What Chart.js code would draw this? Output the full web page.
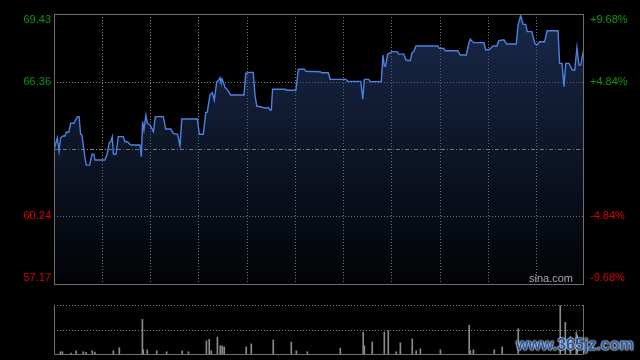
<!DOCTYPE html>
<html>
<head>
<meta charset="utf-8">
<script src="https://cdn.jsdelivr.net/npm/chart.js@4/dist/chart.umd.min.js"></script>
<style>
  html, body { margin: 0; padding: 0; background: #000; }
  #wrap { position: relative; width: 640px; height: 360px; overflow: hidden; }
  #priceChart { position: absolute; left: 0; top: 0; }
  #volChart { position: absolute; left: 0; top: 295px; }
  #mark {
    position: absolute; left: 516px; top: 336px;
    font: bold 16px "Liberation Sans", Arial, sans-serif;
    color: #2457a3;
    text-shadow: 0 0 2px #dfe6ef, 0 0 2px #dfe6ef, 0 0 1px #fff;
  }
</style>
</head>
<body>
<div id="wrap">
  <canvas id="priceChart" width="640" height="290"></canvas>
  <canvas id="volChart" width="640" height="65"></canvas>
  <div id="mark">www.365jz.com</div>
</div>
<script>
// intraday data (minute index 0..241)
const prevClose = 63.30;
const priceTicks = [57.17, 60.24, 63.30, 66.36, 69.43];
const pctLabels = ['-9.68%', '-4.84%', '', '+4.84%', '+9.68%'];
const timeGrid = [21.9, 43.8, 65.7, 87.6, 109.5, 131.5, 153.4, 175.3, 197.2, 219.1];

const priceMinute = [
  0, 1.5, 2.3, 3.0, 4.1, 5.0, 5.5, 6.7, 7.6, 9.1, 10.6, 11.4, 12.1, 12.7, 14.0, 14.7, 16.2, 17.3, 18.1, 18.6,
  23.1, 24.2, 25.1, 25.8, 26.5, 27.0, 28.2, 29.2, 31.5, 32.3, 33.5, 34.6, 35.3, 39.1, 39.7, 40.3, 40.9, 41.8, 42.4, 43.7,
  45.2, 46.1, 48.2, 49.7, 50.8, 53.1, 54.2, 56.2, 57.3, 58.1, 65.2, 66.1, 67.9, 69.0, 69.7, 70.9, 72.0, 72.9, 74.0, 74.7,
  75.5, 75.9, 76.5, 77.8, 79.3, 80.3, 86.4, 87.2, 88.8, 90.6, 91.4, 92.2, 93.7, 96.4, 97.4, 98.2, 98.8, 99.4, 105.2, 105.8,
  110.0, 111.1, 113.8, 114.6, 121.1, 121.7, 124.7, 125.6, 132.8, 133.5, 139.5, 140.4, 141.1, 143.1, 143.8, 148.8, 149.6, 150.2, 150.8, 151.7,
  152.6, 153.7, 156.0, 156.7, 159.0, 160.1, 162.0, 162.8, 163.6, 164.6, 174.5, 175.2, 177.2, 177.9, 183.7, 184.7, 187.5, 188.6, 189.3, 190.8,
  195.5, 196.3, 198.1, 199.6, 201.4, 202.3, 204.6, 205.8, 210.2, 211.0, 212.2, 213.3, 214.5, 215.2, 217.3, 218.6, 219.6, 220.8, 223.1, 224.2,
  229.2, 229.9, 231.0, 231.9, 232.7, 234.2, 235.7, 236.8, 237.8, 238.7, 239.5, 240.9
];
const priceValue = [
  63.25, 63.81, 63.18, 63.81, 63.89, 63.89, 64.06, 64.06, 64.47, 64.47, 64.77, 64.77, 63.97, 63.94, 62.95, 62.57, 62.57, 63.06, 63.06, 62.80,
  62.80, 63.07, 63.59, 63.63, 63.86, 63.07, 63.06, 63.86, 63.86, 63.63, 63.63, 63.51, 63.48, 63.48, 62.95, 64.54, 64.16, 64.84, 64.47, 64.39,
  64.09, 64.77, 64.77, 64.77, 64.21, 64.21, 64.01, 63.97, 63.44, 64.66, 64.66, 63.97, 63.97, 64.95, 64.97, 65.75, 65.86, 65.52, 66.36, 66.40,
  66.54, 66.36, 66.46, 66.10, 65.93, 65.75, 65.75, 66.74, 66.78, 66.78, 65.75, 65.25, 65.22, 65.15, 65.19, 65.07, 65.07, 66.01, 66.01, 65.97,
  65.97, 66.92, 66.92, 66.83, 66.81, 66.76, 66.76, 66.46, 66.46, 66.37, 66.37, 65.56, 66.46, 66.46, 66.36, 66.36, 67.57, 67.07, 67.07, 67.60,
  67.65, 67.72, 67.72, 67.61, 67.61, 67.34, 67.31, 67.67, 67.72, 67.98, 67.98, 67.87, 67.87, 67.76, 67.76, 67.57, 67.57, 68.10, 68.28, 68.13,
  68.13, 67.80, 67.83, 67.98, 67.98, 68.22, 68.26, 68.07, 68.07, 68.93, 69.35, 68.96, 68.96, 68.63, 68.63, 68.10, 68.02, 68.17, 68.17, 68.67,
  68.67, 67.19, 67.19, 66.13, 67.19, 67.19, 66.89, 66.89, 67.90, 67.11, 67.11, 67.83
];

const volMinute = [
  2.9, 3.8, 7.7, 10.1, 13.3, 14.6, 17.4, 18.6, 27.0, 29.7, 40.2, 40.6, 42.4, 46.7, 51.2, 58.3, 61.1, 69.3, 70.6, 71.5,
  74.3, 75.6, 76.5, 77.4, 87.4, 89.7, 99.7, 107.9, 110.2, 115.2, 130.2, 140.6, 141.1, 144.7, 150.2, 152.0, 155.6, 157.5, 162.9, 164.7,
  166.6, 175.7, 188.8, 189.3, 190.7, 200.2, 203.8, 211.1, 230.2, 232.5, 234.8, 237.5, 237.9
];
const volValue = [
  4.6, 4.6, 2, 6.6, 4.6, 3.2, 6.6, 4, 6.6, 12.6, 70.6, 8.6, 8.6, 6.6, 4.6, 6.6, 4.6, 26.6, 30, 6.6,
  34.6, 16.6, 16.6, 14.6, 14.6, 20.6, 28.6, 24.6, 6.6, 4.6, 12, 44.6, 16.6, 24.6, 44.6, 48, 4.6, 22.6, 30.6, 6.6,
  10.6, 8.6, 58.6, 6.6, 8.6, 8.6, 14.6, 52, 98.6, 64.6, 35.2, 44.6, 38.6
];

const frameColor = '#6e6e6e';
const gridColor = '#7a7a7a';

function toXY(xs, ys) {
  return xs.map((x, i) => ({ x: x, y: ys[i] }));
}

// grid + frame for price panel
const priceGrid = {
  id: 'priceGrid',
  beforeDatasetsDraw(chart) {
    const { ctx, chartArea: a, scales: { x, y } } = chart;
    ctx.save();
    ctx.lineWidth = 1;
    ctx.strokeStyle = gridColor;
    ctx.setLineDash([1, 2]);
    timeGrid.forEach(t => {
      const px = Math.round(x.getPixelForValue(t)) + 0.5;
      ctx.beginPath(); ctx.moveTo(px, a.top); ctx.lineTo(px, a.bottom); ctx.stroke();
    });
    [priceTicks[1], priceTicks[3]].forEach(v => {
      const py = Math.round(y.getPixelForValue(v)) + 0.5;
      ctx.beginPath(); ctx.moveTo(a.left, py); ctx.lineTo(a.right, py); ctx.stroke();
    });
    ctx.strokeStyle = '#8c8c8c';
    ctx.setLineDash([4, 2, 1, 2]);
    const py0 = Math.round(y.getPixelForValue(prevClose)) + 0.5;
    ctx.beginPath(); ctx.moveTo(a.left, py0); ctx.lineTo(a.right, py0); ctx.stroke();
    ctx.restore();
  },
  afterDraw(chart) {
    const { ctx, chartArea: a, scales: { y } } = chart;
    ctx.save();
    ctx.strokeStyle = frameColor;
    ctx.lineWidth = 1;
    ctx.strokeRect(a.left + 0.5, a.top + 0.5, a.right - a.left - 1, a.bottom - a.top);
    ctx.font = '11px "Liberation Sans", Arial, sans-serif';
    ctx.textBaseline = 'middle';
    priceTicks.forEach((v, i) => {
      if (v === prevClose) return;
      let py = y.getPixelForValue(v);
      py = Math.min(Math.max(py, a.top + 6), a.bottom - 6);
      ctx.fillStyle = v > prevClose ? '#0a9a0a' : '#e00000';
      ctx.textAlign = 'right';
      ctx.fillText(v.toFixed(2), a.left - 3, py);
      ctx.textAlign = 'left';
      ctx.fillText(pctLabels[i], a.right + 6, py);
    });
    ctx.fillStyle = '#a8a8a8';
    ctx.textAlign = 'right';
    ctx.fillText('sina.com', a.right - 11, a.bottom - 5);
    ctx.restore();
  }
};

const volFrame = {
  id: 'volFrame',
  beforeDatasetsDraw(chart) {
    const { ctx, chartArea: a } = chart;
    ctx.save();
    ctx.lineWidth = 1;
    ctx.strokeStyle = gridColor;
    ctx.setLineDash([1, 2]);
    const mid = Math.round((a.top + a.bottom) / 2) + 0.5;
    [a.top + 0.5, mid].forEach(py => {
      ctx.beginPath(); ctx.moveTo(a.left, py); ctx.lineTo(a.right, py); ctx.stroke();
    });
    ctx.setLineDash([]);
    ctx.strokeStyle = frameColor;
    ctx.beginPath();
    ctx.moveTo(a.left + 0.5, a.top); ctx.lineTo(a.left + 0.5, a.bottom + 0.5);
    ctx.lineTo(a.right - 0.5, a.bottom + 0.5); ctx.lineTo(a.right - 0.5, a.top);
    ctx.stroke();
    ctx.restore();
  }
};

Chart.defaults.animation = false;

new Chart(document.getElementById('priceChart'), {
  type: 'line',
  data: {
    datasets: [{
      data: toXY(priceMinute, priceValue),
      borderColor: '#4a82e2',
      borderWidth: 1.4,
      pointRadius: 0,
      tension: 0,
      fill: 'start',
      backgroundColor: (c) => {
        const a = c.chart.chartArea;
        if (!a) return 'rgba(38,64,115,0.4)';
        const g = c.chart.ctx.createLinearGradient(0, a.top, 0, a.bottom);
        g.addColorStop(0, 'rgba(40,66,120,0.62)');
        g.addColorStop(1, 'rgba(40,66,120,0.04)');
        return g;
      }
    }]
  },
  options: {
    responsive: false,
    layout: { padding: { left: 54, right: 56, top: 14, bottom: 6 } },
    scales: {
      x: { type: 'linear', min: 0, max: 241, display: false },
      y: { min: priceTicks[0], max: priceTicks[4], display: false }
    },
    plugins: { legend: { display: false }, tooltip: { enabled: false } }
  },
  plugins: [priceGrid]
});

new Chart(document.getElementById('volChart'), {
  type: 'bar',
  data: {
    datasets: [{
      data: toXY(volMinute, volValue),
      backgroundColor: '#8a8a8a',
      barThickness: 1
    }]
  },
  options: {
    responsive: false,
    layout: { padding: { left: 54, right: 56, top: 10, bottom: 6 } },
    scales: {
      x: { type: 'linear', min: 0, max: 241, offset: false, grid: { offset: false }, display: false },
      y: { min: 0, max: 100, display: false }
    },
    plugins: { legend: { display: false }, tooltip: { enabled: false } }
  },
  plugins: [volFrame]
});
</script>
</body>
</html>
